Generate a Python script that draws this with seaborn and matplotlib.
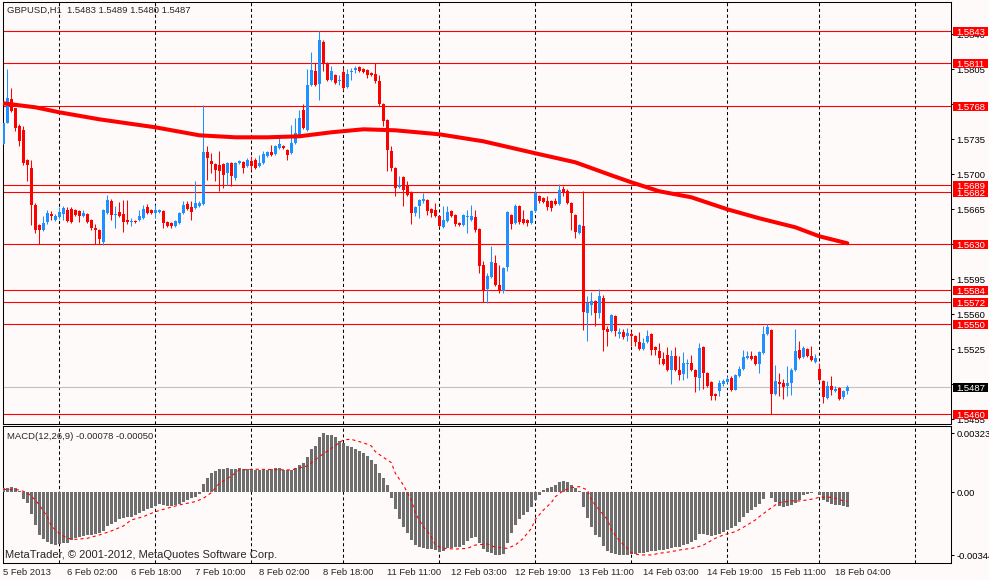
import numpy as np
import pandas as pd
import seaborn as sns
import matplotlib.pyplot as plt
from matplotlib.patches import Rectangle

# GBPUSD H1 candles (bar 0 = 5 Feb 2013 10:00)
opens = [
    1.5730, 1.5751, 1.5775, 1.5766, 1.5748, 1.5744, 1.5714, 1.5706, 1.5669, 1.5649,
    1.5644, 1.5652, 1.5660, 1.5654, 1.5657, 1.5660, 1.5664, 1.5665, 1.5664, 1.5663,
    1.5658, 1.5660, 1.5654, 1.5646, 1.5644, 1.5632, 1.5661, 1.5673, 1.5659, 1.5662,
    1.5660, 1.5654, 1.5652, 1.5653, 1.5654, 1.5656, 1.5667, 1.5664, 1.5661, 1.5662,
    1.5663, 1.5652, 1.5651, 1.5648, 1.5651, 1.5661, 1.5670, 1.5667, 1.5666, 1.5668,
    1.5670, 1.5722, 1.5713, 1.5710, 1.5709, 1.5710, 1.5701, 1.5711, 1.5696, 1.5711,
    1.5712, 1.5708, 1.5713, 1.5714, 1.5708, 1.5711, 1.5718, 1.5722, 1.5720, 1.5726,
    1.5728, 1.5724, 1.5721, 1.5731, 1.5738, 1.5764, 1.5744, 1.5789, 1.5803, 1.5790,
    1.5832, 1.5811, 1.5794, 1.5799, 1.5793, 1.5802, 1.5787, 1.5802, 1.5804, 1.5807,
    1.5805, 1.5804, 1.5801, 1.5800, 1.5793, 1.5770, 1.5754, 1.5723, 1.5706, 1.5687,
    1.5697, 1.5689, 1.5682, 1.5661, 1.5668, 1.5673, 1.5674, 1.5665, 1.5664, 1.5658,
    1.5647, 1.5653, 1.5663, 1.5659, 1.5651, 1.5649, 1.5657, 1.5654, 1.5657, 1.5645,
    1.5609, 1.5585, 1.5597, 1.5611, 1.5589, 1.5583, 1.5607, 1.5659, 1.5651, 1.5668,
    1.5655, 1.5654, 1.5651, 1.5663, 1.5678, 1.5676, 1.5673, 1.5673, 1.5673, 1.5670,
    1.5685, 1.5683, 1.5671, 1.5659, 1.5641, 1.5648, 1.5561, 1.5569, 1.5573, 1.5561,
    1.5576, 1.5545, 1.5543, 1.5558, 1.5540, 1.5542, 1.5538, 1.5540, 1.5538, 1.5532,
    1.5525, 1.5532, 1.5540, 1.5527, 1.5523, 1.5515, 1.5519, 1.5504, 1.5518, 1.5504,
    1.5500, 1.5510, 1.5511, 1.5504, 1.5496, 1.5527, 1.5501, 1.5492, 1.5480, 1.5483,
    1.5490, 1.5492, 1.5496, 1.5484, 1.5498, 1.5505, 1.5516, 1.5518, 1.5518, 1.5510,
    1.5521, 1.5540, 1.5544, 1.5480, 1.5492, 1.5491, 1.5488, 1.5491, 1.5504, 1.5524,
    1.5517, 1.5525, 1.5518, 1.5512, 1.5505, 1.5493, 1.5476, 1.5488, 1.5483, 1.5486,
    1.5477, 1.5483,
]
highs = [
    1.5751, 1.5805, 1.5786, 1.5766, 1.5750, 1.5748, 1.5715, 1.5714, 1.5671, 1.5650,
    1.5658, 1.5664, 1.5663, 1.5660, 1.5667, 1.5668, 1.5667, 1.5667, 1.5665, 1.5664,
    1.5664, 1.5661, 1.5655, 1.5650, 1.5645, 1.5665, 1.5679, 1.5675, 1.5668, 1.5672,
    1.5674, 1.5674, 1.5656, 1.5654, 1.5664, 1.5669, 1.5670, 1.5665, 1.5669, 1.5665,
    1.5664, 1.5653, 1.5652, 1.5654, 1.5662, 1.5673, 1.5673, 1.5673, 1.5693, 1.5673,
    1.5769, 1.5728, 1.5721, 1.5711, 1.5723, 1.5711, 1.5712, 1.5712, 1.5712, 1.5714,
    1.5713, 1.5716, 1.5718, 1.5716, 1.5719, 1.5723, 1.5723, 1.5729, 1.5729, 1.5739,
    1.5729, 1.5725, 1.5749, 1.5756, 1.5764, 1.5770, 1.5805, 1.5822, 1.5811, 1.5843,
    1.5834, 1.5812, 1.5808, 1.5800, 1.5799, 1.5806, 1.5805, 1.5806, 1.5808, 1.5808,
    1.5806, 1.5805, 1.5802, 1.5811, 1.5799, 1.5771, 1.5755, 1.5728, 1.5707, 1.5698,
    1.5698, 1.5693, 1.5683, 1.5668, 1.5675, 1.5681, 1.5675, 1.5666, 1.5671, 1.5659,
    1.5668, 1.5668, 1.5664, 1.5660, 1.5652, 1.5660, 1.5664, 1.5669, 1.5664, 1.5646,
    1.5613, 1.5601, 1.5628, 1.5619, 1.5609, 1.5607, 1.5663, 1.5660, 1.5670, 1.5669,
    1.5664, 1.5655, 1.5664, 1.5684, 1.5679, 1.5677, 1.5678, 1.5674, 1.5676, 1.5690,
    1.5688, 1.5685, 1.5672, 1.5660, 1.5650, 1.5683, 1.5578, 1.5582, 1.5574, 1.5585,
    1.5579, 1.5548, 1.5560, 1.5559, 1.5546, 1.5545, 1.5546, 1.5543, 1.5539, 1.5542,
    1.5536, 1.5544, 1.5541, 1.5528, 1.5531, 1.5522, 1.5527, 1.5524, 1.5527, 1.5518,
    1.5522, 1.5515, 1.5519, 1.5505, 1.5531, 1.5528, 1.5502, 1.5493, 1.5481, 1.5494,
    1.5495, 1.5498, 1.5498, 1.5500, 1.5508, 1.5524, 1.5523, 1.5523, 1.5519, 1.5523,
    1.5548, 1.5550, 1.5545, 1.5509, 1.5501, 1.5495, 1.5508, 1.5506, 1.5545, 1.5533,
    1.5528, 1.5526, 1.5528, 1.5520, 1.5511, 1.5494, 1.5493, 1.5498, 1.5488, 1.5487,
    1.5484, 1.5489,
]
lows = [
    1.5730, 1.5751, 1.5762, 1.5743, 1.5728, 1.5709, 1.5693, 1.5649, 1.5641, 1.5630,
    1.5643, 1.5650, 1.5654, 1.5653, 1.5655, 1.5654, 1.5652, 1.5651, 1.5658, 1.5652,
    1.5657, 1.5651, 1.5644, 1.5630, 1.5630, 1.5629, 1.5660, 1.5654, 1.5646, 1.5657,
    1.5642, 1.5650, 1.5648, 1.5651, 1.5653, 1.5655, 1.5660, 1.5660, 1.5656, 1.5661,
    1.5646, 1.5647, 1.5646, 1.5647, 1.5650, 1.5660, 1.5664, 1.5654, 1.5665, 1.5667,
    1.5669, 1.5694, 1.5701, 1.5693, 1.5683, 1.5686, 1.5689, 1.5688, 1.5694, 1.5710,
    1.5701, 1.5707, 1.5704, 1.5705, 1.5707, 1.5710, 1.5717, 1.5718, 1.5719, 1.5725,
    1.5725, 1.5714, 1.5720, 1.5730, 1.5737, 1.5745, 1.5743, 1.5788, 1.5788, 1.5774,
    1.5803, 1.5793, 1.5793, 1.5790, 1.5789, 1.5784, 1.5786, 1.5794, 1.5801, 1.5802,
    1.5801, 1.5796, 1.5798, 1.5791, 1.5768, 1.5748, 1.5703, 1.5703, 1.5678, 1.5686,
    1.5668, 1.5678, 1.5650, 1.5658, 1.5656, 1.5671, 1.5659, 1.5657, 1.5657, 1.5647,
    1.5646, 1.5652, 1.5657, 1.5648, 1.5648, 1.5648, 1.5641, 1.5653, 1.5642, 1.5601,
    1.5572, 1.5571, 1.5596, 1.5588, 1.5581, 1.5581, 1.5603, 1.5645, 1.5650, 1.5650,
    1.5650, 1.5648, 1.5650, 1.5662, 1.5671, 1.5671, 1.5664, 1.5663, 1.5669, 1.5669,
    1.5678, 1.5670, 1.5644, 1.5636, 1.5640, 1.5544, 1.5533, 1.5559, 1.5548, 1.5556,
    1.5523, 1.5528, 1.5542, 1.5538, 1.5536, 1.5535, 1.5533, 1.5528, 1.5528, 1.5524,
    1.5524, 1.5531, 1.5519, 1.5519, 1.5510, 1.5509, 1.5503, 1.5490, 1.5503, 1.5494,
    1.5494, 1.5496, 1.5503, 1.5482, 1.5484, 1.5485, 1.5487, 1.5474, 1.5474, 1.5478,
    1.5488, 1.5491, 1.5483, 1.5484, 1.5497, 1.5504, 1.5515, 1.5514, 1.5509, 1.5501,
    1.5520, 1.5539, 1.5460, 1.5479, 1.5478, 1.5475, 1.5478, 1.5479, 1.5503, 1.5515,
    1.5516, 1.5517, 1.5513, 1.5511, 1.5493, 1.5471, 1.5475, 1.5479, 1.5482, 1.5474,
    1.5475, 1.5480,
]
closes = [
    1.5751, 1.5776, 1.5763, 1.5746, 1.5733, 1.5711, 1.5709, 1.5669, 1.5644, 1.5644,
    1.5651, 1.5661, 1.5658, 1.5658, 1.5662, 1.5666, 1.5653, 1.5652, 1.5659, 1.5658,
    1.5661, 1.5652, 1.5646, 1.5644, 1.5635, 1.5664, 1.5674, 1.5659, 1.5660, 1.5658,
    1.5652, 1.5652, 1.5653, 1.5652, 1.5658, 1.5665, 1.5661, 1.5661, 1.5664, 1.5664,
    1.5651, 1.5648, 1.5648, 1.5653, 1.5661, 1.5669, 1.5665, 1.5662, 1.5671, 1.5671,
    1.5722, 1.5716, 1.5710, 1.5704, 1.5703, 1.5699, 1.5711, 1.5698, 1.5711, 1.5713,
    1.5706, 1.5714, 1.5708, 1.5706, 1.5711, 1.5720, 1.5722, 1.5719, 1.5728, 1.5730,
    1.5726, 1.5719, 1.5731, 1.5741, 1.5756, 1.5746, 1.5789, 1.5804, 1.5789, 1.5834,
    1.5811, 1.5794, 1.5803, 1.5791, 1.5794, 1.5786, 1.5800, 1.5803, 1.5806, 1.5803,
    1.5802, 1.5799, 1.5799, 1.5793, 1.5770, 1.5753, 1.5724, 1.5706, 1.5686, 1.5689,
    1.5684, 1.5679, 1.5661, 1.5667, 1.5674, 1.5675, 1.5663, 1.5661, 1.5658, 1.5648,
    1.5654, 1.5662, 1.5658, 1.5650, 1.5649, 1.5659, 1.5658, 1.5658, 1.5644, 1.5608,
    1.5584, 1.5598, 1.5612, 1.5589, 1.5584, 1.5606, 1.5662, 1.5650, 1.5668, 1.5652,
    1.5651, 1.5651, 1.5663, 1.5681, 1.5673, 1.5672, 1.5667, 1.5666, 1.5670, 1.5684,
    1.5682, 1.5671, 1.5661, 1.5642, 1.5649, 1.5562, 1.5571, 1.5573, 1.5561, 1.5578,
    1.5544, 1.5542, 1.5559, 1.5543, 1.5542, 1.5537, 1.5541, 1.5538, 1.5532, 1.5525,
    1.5531, 1.5538, 1.5524, 1.5524, 1.5516, 1.5510, 1.5504, 1.5518, 1.5504, 1.5499,
    1.5511, 1.5511, 1.5504, 1.5497, 1.5526, 1.5501, 1.5488, 1.5478, 1.5478, 1.5491,
    1.5493, 1.5495, 1.5484, 1.5499, 1.5505, 1.5517, 1.5518, 1.5515, 1.5510, 1.5522,
    1.5540, 1.5547, 1.5480, 1.5493, 1.5490, 1.5487, 1.5491, 1.5504, 1.5523, 1.5516,
    1.5526, 1.5518, 1.5514, 1.5516, 1.5494, 1.5477, 1.5488, 1.5484, 1.5485, 1.5475,
    1.5483, 1.5487,
]

# thick moving average, read at a few bars
ma_bars = [0, 8, 14, 24, 38, 49, 58, 66, 74, 82, 90, 98, 109, 120, 133, 143,
           152, 157, 164, 172, 181, 189, 198, 204, 211]
ma_vals = [1.5771, 1.5767, 1.5762, 1.5755, 1.5747, 1.5739, 1.5737, 1.5737,
           1.5738, 1.5742, 1.5745, 1.5744, 1.5740, 1.5733, 1.5721, 1.5712,
           1.5699, 1.5692, 1.5683, 1.5677, 1.5665, 1.5656, 1.5647, 1.5638, 1.5631]

# horizontal levels drawn on the chart
levels = [1.5843, 1.5811, 1.5768, 1.5689, 1.5682, 1.5630, 1.5584, 1.5572, 1.5550, 1.5460]
bid_price = 1.5487
price_ticks = [1.5840, 1.5805, 1.5770, 1.5735, 1.5700, 1.5665, 1.5630,
               1.5595, 1.5560, 1.5525, 1.5490, 1.5455]
# these tick labels sit completely under a price tag in the original
hidden_ticks = [1.5770, 1.5630, 1.5490]

# MACD(12,26,9) main values (histogram), one per bar
macd_main = [
    0.00022, 0.00022, 0.00031, 0.00022, 0.00009, -0.00036, -0.00060, -0.00118, -0.00178, -0.00233,
    -0.00257, -0.00270, -0.00282, -0.00288, -0.00282, -0.00275, -0.00275, -0.00260, -0.00251, -0.00242,
    -0.00239, -0.00233, -0.00233, -0.00229, -0.00224, -0.00209, -0.00184, -0.00173, -0.00160, -0.00148,
    -0.00142, -0.00137, -0.00133, -0.00124, -0.00115, -0.00100, -0.00093, -0.00087, -0.00075, -0.00064,
    -0.00069, -0.00075, -0.00075, -0.00069, -0.00064, -0.00051, -0.00042, -0.00033, -0.00027, -0.00009,
    0.00046, 0.00076, 0.00107, 0.00118, 0.00126, 0.00126, 0.00131, 0.00126, 0.00126, 0.00131,
    0.00126, 0.00126, 0.00126, 0.00122, 0.00122, 0.00122, 0.00122, 0.00126, 0.00131, 0.00131,
    0.00122, 0.00122, 0.00122, 0.00131, 0.00149, 0.00158, 0.00195, 0.00235, 0.00253, 0.00300,
    0.00323, 0.00313, 0.00313, 0.00300, 0.00282, 0.00268, 0.00253, 0.00249, 0.00235, 0.00228,
    0.00213, 0.00198, 0.00177, 0.00155, 0.00107, 0.00076, 0.00040, -0.00033, -0.00093, -0.00148,
    -0.00188, -0.00224, -0.00260, -0.00288, -0.00297, -0.00306, -0.00311, -0.00311, -0.00315, -0.00324,
    -0.00319, -0.00306, -0.00302, -0.00300, -0.00297, -0.00288, -0.00264, -0.00248, -0.00246, -0.00279,
    -0.00311, -0.00324, -0.00333, -0.00340, -0.00344, -0.00337, -0.00275, -0.00224, -0.00178, -0.00148,
    -0.00124, -0.00106, -0.00082, -0.00042, -0.00015, 0.00013, 0.00022, 0.00031, 0.00040, 0.00058,
    0.00062, 0.00058, 0.00040, 0.00022, 0.00009, -0.00082, -0.00142, -0.00188, -0.00233, -0.00246,
    -0.00293, -0.00319, -0.00330, -0.00337, -0.00344, -0.00342, -0.00340, -0.00338, -0.00335, -0.00333,
    -0.00330, -0.00324, -0.00319, -0.00319, -0.00315, -0.00315, -0.00311, -0.00306, -0.00300, -0.00297,
    -0.00288, -0.00282, -0.00270, -0.00260, -0.00228, -0.00228, -0.00233, -0.00239, -0.00233, -0.00228,
    -0.00215, -0.00206, -0.00197, -0.00184, -0.00160, -0.00133, -0.00111, -0.00097, -0.00082, -0.00064,
    -0.00038, 0.00004, -0.00033, -0.00051, -0.00075, -0.00078, -0.00075, -0.00069, -0.00060, -0.00042,
    -0.00015, -0.00009, -0.00005, 0.00004, -0.00015, -0.00042, -0.00051, -0.00064, -0.00069, -0.00069,
    -0.00075, -0.00078,
]

# MACD signal line, read at a few bars
sig_bars = [0, 4, 6, 8, 9, 11, 12, 14, 16, 18, 21, 24, 27, 30, 32, 35, 38, 41, 44, 48,
            50, 52, 54, 57, 59, 63, 72, 76, 79, 82, 85, 87, 88, 90, 92, 93, 95, 97, 98, 100,
            102, 103, 105, 107, 108, 110, 113, 116, 118, 121, 123, 126, 128, 130, 132, 133,
            135, 137, 138, 140, 142, 144, 146, 147, 149, 151, 152, 154, 156, 157, 159, 162,
            164, 167, 169, 172, 173, 175, 178, 180, 183, 185, 188, 189, 191, 193, 194, 197,
            199, 201, 203, 204, 207, 208, 210, 211]
sig_vals = [0.00016, 0.00013, -0.00002, -0.00042, -0.00069, -0.00133, -0.00184, -0.00224,
            -0.00251, -0.00257, -0.00251, -0.00233, -0.00211, -0.00184, -0.00151, -0.00133,
            -0.00106, -0.00087, -0.00069, -0.00051, -0.00033, -0.00002, 0.00049, 0.00089,
            0.00122, 0.00126, 0.00122, 0.00144, 0.00195, 0.00240, 0.00286, 0.00290, 0.00282,
            0.00271, 0.00253, 0.00222, 0.00191, 0.00162, 0.00104, 0.00040, -0.00042, -0.00115,
            -0.00188, -0.00242, -0.00288, -0.00306, -0.00310, -0.00306, -0.00288, -0.00282,
            -0.00300, -0.00306, -0.00288, -0.00251, -0.00197, -0.00148, -0.00097, -0.00056,
            -0.00024, 0.00009, 0.00025, 0.00031, 0.00013, -0.00042, -0.00097, -0.00148,
            -0.00206, -0.00264, -0.00306, -0.00330, -0.00342, -0.00342, -0.00333, -0.00324,
            -0.00315, -0.00306, -0.00302, -0.00288, -0.00251, -0.00233, -0.00215, -0.00191,
            -0.00151, -0.00133, -0.00100, -0.00069, -0.00056, -0.00047, -0.00047, -0.00042,
            -0.00033, -0.00027, -0.00027, -0.00033, -0.00047, -0.00050]
macd_ticks = [0.00323, 0.0, -0.00344]
macd_tick_labels = ['0.00323', '0.00', '-0.00344']

time_labels = ['5 Feb 2013', '6 Feb 02:00', '6 Feb 18:00', '7 Feb 10:00', '8 Feb 02:00',
               '8 Feb 18:00', '11 Feb 11:00', '12 Feb 03:00', '12 Feb 19:00', '13 Feb 11:00',
               '14 Feb 03:00', '14 Feb 19:00', '15 Feb 11:00', '18 Feb 04:00']
tick_bars = list(range(0, 16 * len(time_labels), 16))
grid_bars = [14, 38, 62, 85, 109, 133, 157, 181, 204, 228]

BG = '#fffafa'
BULL = '#1e90ff'
BEAR = '#ff0000'
FS = 6.8


def price_tag(ax, y, text, face):
    """Coloured box with the price on the right-hand scale"""
    ax.add_patch(Rectangle((1.0021, y - 0.00045), 0.0369, 0.0009, transform=ax.get_yaxis_transform(),
                           facecolor=face, edgecolor='none', clip_on=False, zorder=5))
    ax.text(1.0058, y, text, transform=ax.get_yaxis_transform(), color='white', fontsize=FS,
            va='center_baseline', ha='left', zorder=6, clip_on=False)


def draw_price(ax, df):
    up = df['close'] >= df['open']
    colors = np.where(up, BULL, BEAR)
    ax.vlines(df['bar'], df['low'], df['high'], colors=colors, linewidth=0.75, zorder=3)
    body_low = np.minimum(df['open'], df['close'])
    body_h = np.maximum((df['close'] - df['open']).abs(), 0.00008)
    ax.bar(df['bar'], body_h, bottom=body_low, width=0.75, color=colors, linewidth=0, zorder=3)

    for lv in levels:
        ax.axhline(lv, color=BEAR, linewidth=0.8, zorder=2)
    ax.axhline(bid_price, color='#c0c0c0', linewidth=0.8, zorder=2)

    sns.lineplot(x=ma_bars, y=ma_vals, ax=ax, color=BEAR, linewidth=2.9, zorder=4)

    ax.set_xlim(-0.2, 236.9)
    ax.set_ylim(1.54503, 1.58723)
    ax.set_yticks(price_ticks)
    ax.set_yticklabels(['' if t in hidden_ticks else f'{t:.4f}' for t in price_ticks])
    ax.tick_params(axis='x', bottom=False, labelbottom=False)

    for lv in levels:
        price_tag(ax, lv, f'{lv:.4f}', BEAR)
    price_tag(ax, bid_price, f'{bid_price:.4f}', 'black')

    ax.text(0.0047, 0.981, 'GBPUSD,H1  1.5483 1.5489 1.5480 1.5487', transform=ax.transAxes,
            fontsize=FS, va='center', ha='left')


def draw_macd(ax):
    ax.bar(range(len(macd_main)), macd_main, width=0.75, color='#6e6e6e', linewidth=0, zorder=3)
    sns.lineplot(x=sig_bars, y=sig_vals, ax=ax, color=BEAR, linewidth=0.8, zorder=4)
    ax.lines[-1].set_linestyle((0, (2.8, 2.8)))

    ax.set_xlim(-0.2, 236.9)
    ax.set_ylim(-0.00386, 0.00362)
    ax.set_yticks(macd_ticks)
    ax.set_yticklabels(macd_tick_labels)
    ax.set_xticks(tick_bars)
    ax.set_xticklabels(time_labels, ha='left')
    ax.tick_params(axis='x', length=2.9, width=0.75, pad=0.6, labelsize=FS, direction='out')

    ax.text(0.0047, 0.925, 'MACD(12,26,9) -0.00078 -0.00050', transform=ax.transAxes,
            fontsize=FS, va='center', ha='left')
    ax.text(0.0026, 0.055, 'MetaTrader, \u00a9 2001-2012, MetaQuotes Software Corp.',
            transform=ax.transAxes, fontsize=8, va='center', ha='left')


def main():
    sns.set_style('white')
    plt.rcParams['font.family'] = ['Liberation Sans', 'DejaVu Sans']

    df = pd.DataFrame({'open': opens, 'high': highs, 'low': lows, 'close': closes})
    df['bar'] = np.arange(len(df))

    fig = plt.figure(figsize=(9.89, 5.80), dpi=100, facecolor=BG)
    ax = fig.add_axes([2.5 / 989, 1 - 424 / 580, 948.5 / 989, 422 / 580], facecolor=BG)
    ax2 = fig.add_axes([2.5 / 989, 1 - 563 / 580, 948.5 / 989, 137 / 580], facecolor=BG)

    draw_price(ax, df)
    draw_macd(ax2)

    for a in (ax, ax2):
        for g in grid_bars:
            a.axvline(g, color='black', linewidth=0.75, linestyle=(0, (3, 2.5)), zorder=1)
        for sp in a.spines.values():
            sp.set_color('black')
            sp.set_linewidth(0.75)
        a.yaxis.tick_right()
        a.tick_params(axis='y', length=2.2, width=0.75, pad=1.5, labelsize=FS,
                      direction='out', colors='black')
        a.set_xlabel('')
        a.set_ylabel('')

    fig.savefig('out.png', dpi=100, facecolor=BG)
    plt.close(fig)


if __name__ == '__main__':
    main()
